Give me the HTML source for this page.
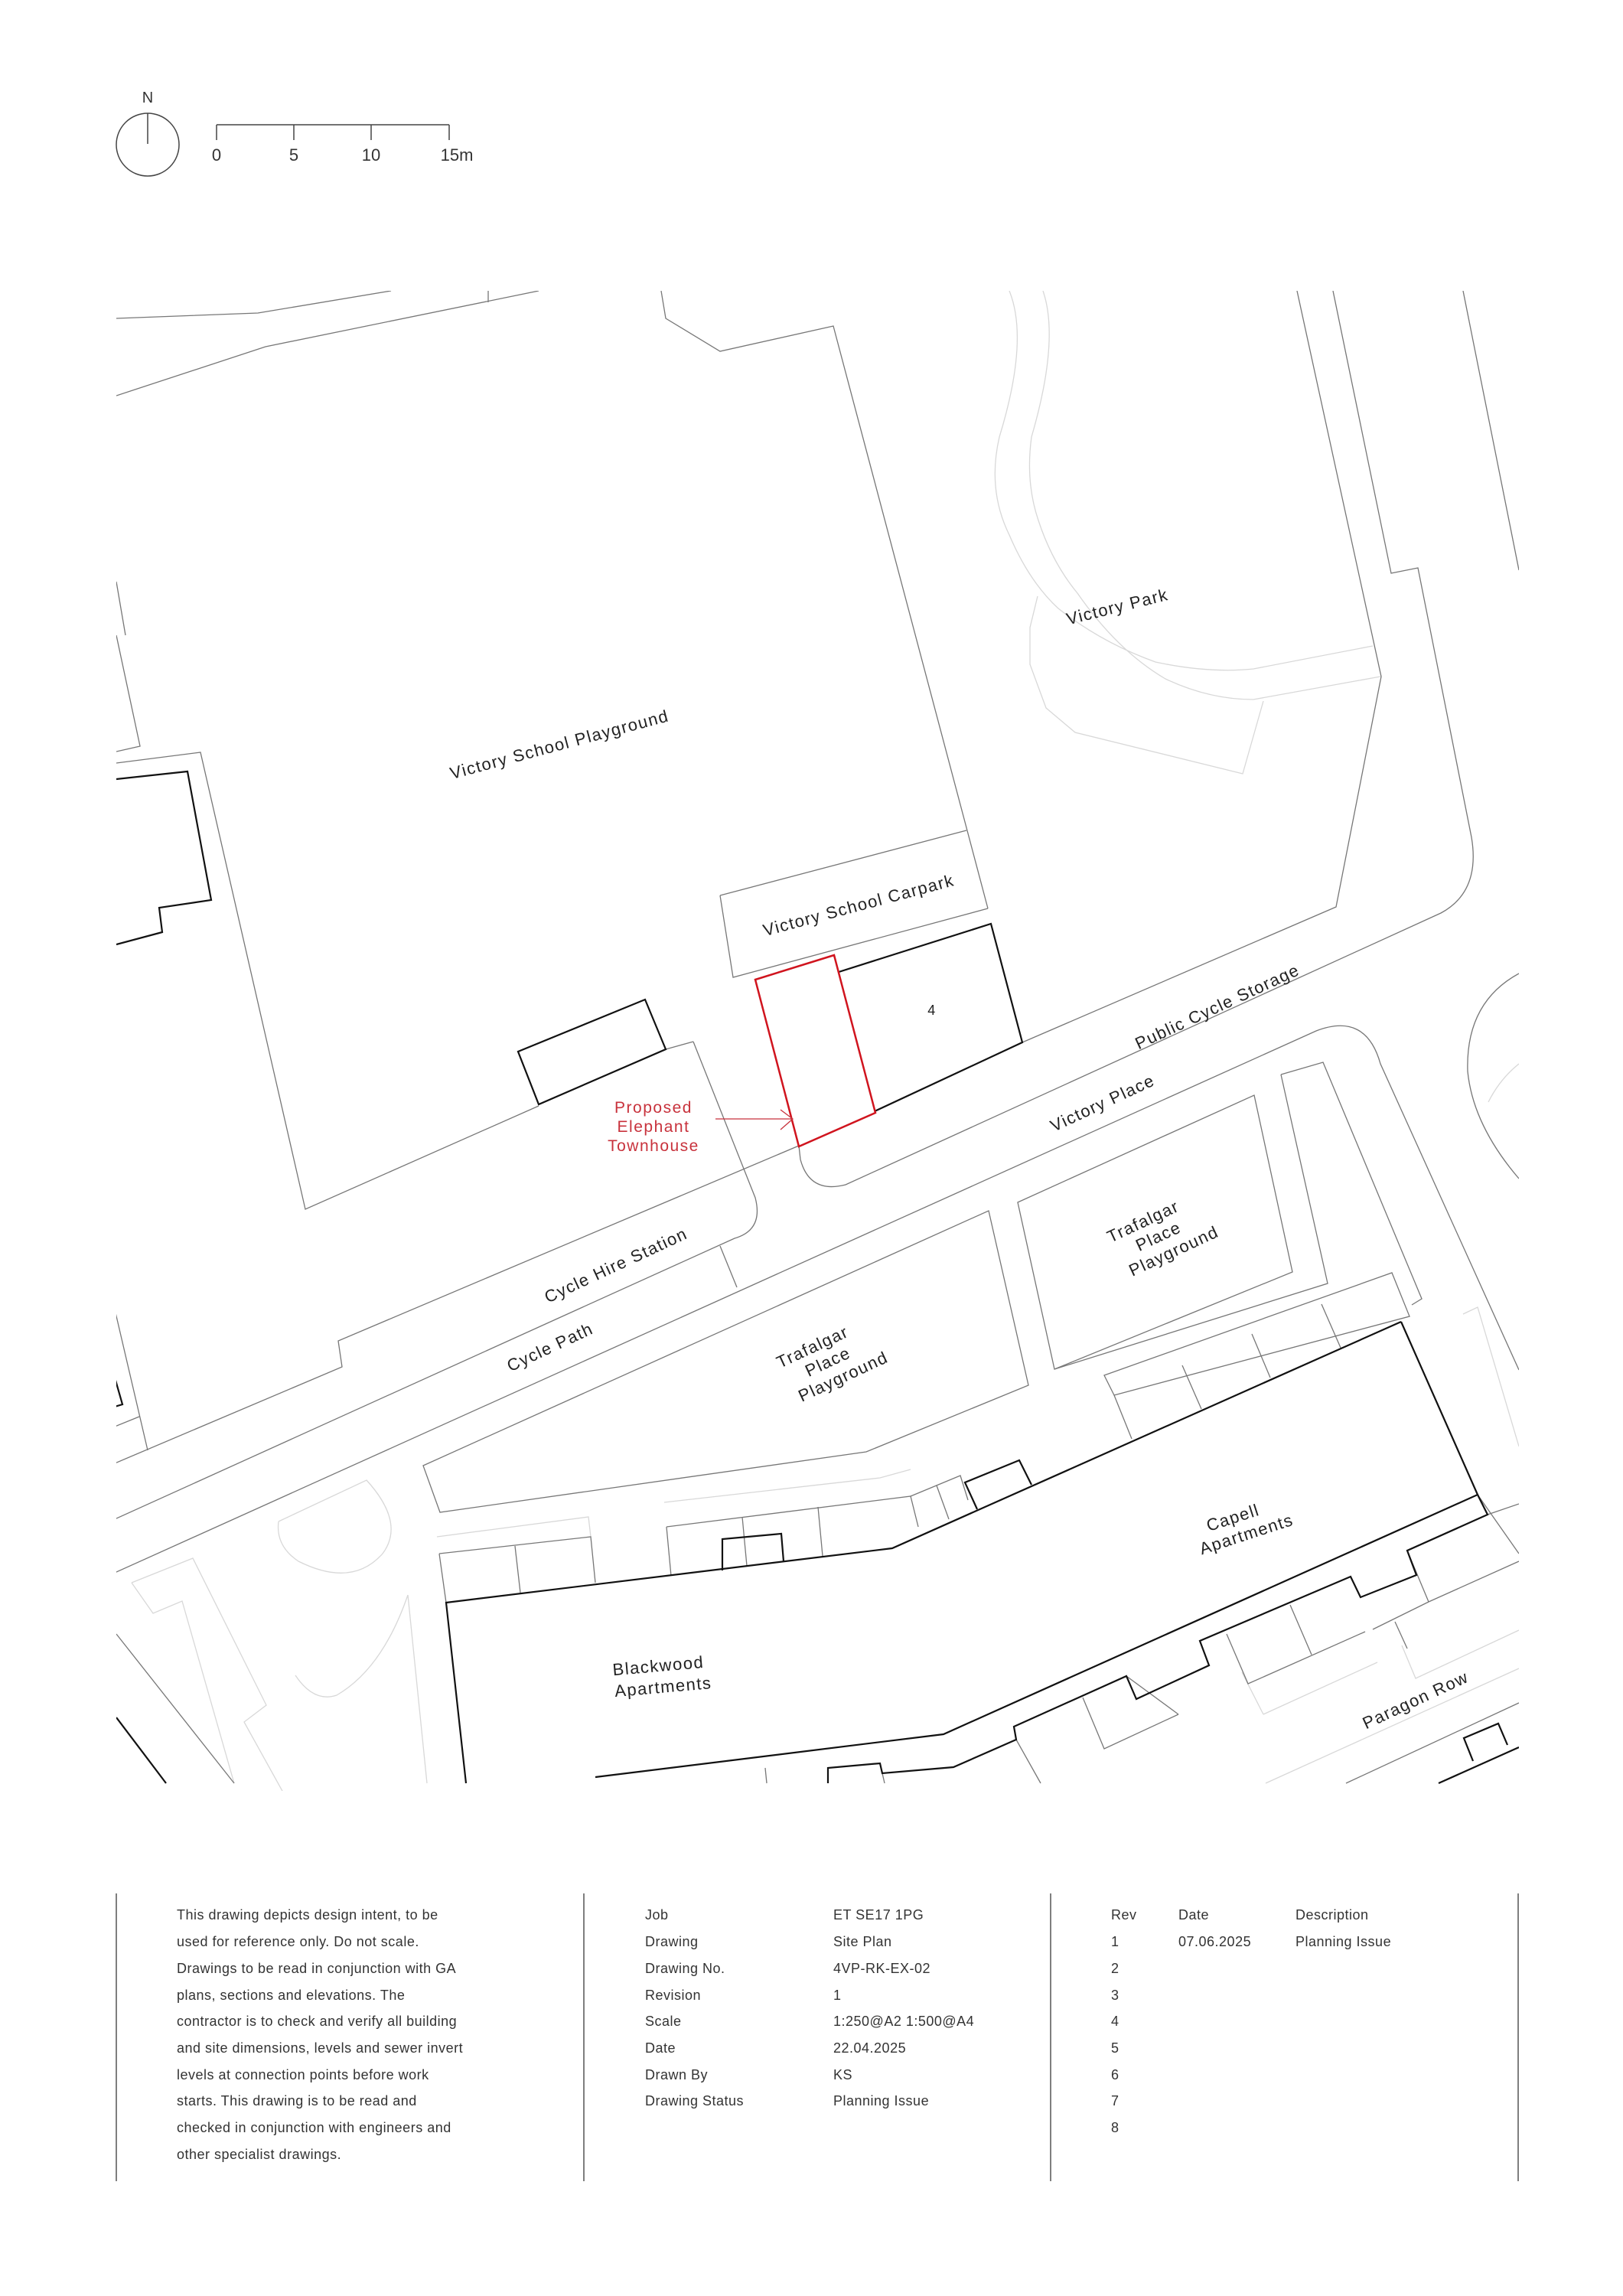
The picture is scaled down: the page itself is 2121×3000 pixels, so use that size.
<!DOCTYPE html>
<html><head><meta charset="utf-8">
<style>
html,body{margin:0;padding:0;background:#fff;}
svg{display:block;}
text{font-family:"Liberation Sans",sans-serif;}
</style></head>
<body>
<svg width="2121" height="3000" viewBox="0 0 2121 3000" xmlns="http://www.w3.org/2000/svg">
<rect width="2121" height="3000" fill="#fff"/>
<circle cx="193" cy="189" r="41" fill="none" stroke="#444" stroke-width="1.5"/>
<line x1="193" y1="148" x2="193" y2="188" stroke="#444" stroke-width="1.5"/>
<text x="193" y="134" font-size="20" text-anchor="middle" fill="#333">N</text>
<g stroke="#444" stroke-width="1.5">
<line x1="283" y1="163" x2="587" y2="163"/>
<line x1="283" y1="163" x2="283" y2="183"/>
<line x1="384" y1="163" x2="384" y2="183"/>
<line x1="485" y1="163" x2="485" y2="183"/>
<line x1="587" y1="163" x2="587" y2="183"/>
</g>
<g font-size="22" fill="#333" text-anchor="middle">
<text x="283" y="210">0</text><text x="384" y="210">5</text><text x="485" y="210">10</text><text x="597" y="210">15m</text>
</g>

<defs><clipPath id="mc"><rect x="152" y="380" width="1833" height="1960"/></clipPath></defs>
<g clip-path="url(#mc)" fill="none" stroke-linejoin="miter">
<g stroke="#d8d8d8" stroke-width="1.3">
<path d="M1319,380 Q1345,444 1306,571 Q1290,640 1319,699 Q1345,760 1383,795 Q1440,840 1510,865 Q1580,880 1638,874 L1794,844"/>
<path d="M1363,380 Q1385,444 1348,571 Q1340,630 1357,680 Q1375,735 1408,775 Q1460,850 1523,887 Q1580,914 1638,914 L1804,884"/>
<path d="M1356,779 L1346,820 L1346,868 L1367,925 L1405,957 L1624,1011 L1651,916"/>
<path d="M364,1988 L479,1934 Q530,1990 500,2030 Q460,2075 390,2040 Q360,2020 364,1988"/>
<path d="M172,2068 L252,2036 L348,2228 L319,2250 L380,2360"/>
<path d="M172,2068 L200,2108 L238,2092 L306,2330"/>
<path d="M533,2084 L558,2330"/>
<path d="M533,2084 Q500,2180 440,2215 Q410,2225 386,2189"/>
<path d="M571,2008 L769,1982 L772,2008"/>
<path d="M868,1963 L1150,1931 L1190,1920"/>
<path d="M1654,2330 L1985,2180"/>
<path d="M1912,1717 L1931,1708 L1985,1890"/>
<path d="M1651,2240 L1800,2172 M1623,2185 L1651,2240 M1832,2150 L1850,2193 L1985,2130"/>
<path d="M1985,1390 Q1960,1410 1945,1440"/>
</g>
<g stroke="#777" stroke-width="1.3">
<path d="M152,416 L337,409 L511,380"/>
<path d="M152,517 L347,453 L704,380 M638,380 L638,395"/>
<path d="M864,380 L870,416 L941,459 L1089,426 L1291,1187"/>
<path d="M941,1170 L1263,1085 M941,1170 L958,1277 L1291,1187"/>
<path d="M152,760 L164,830 M152,830 L183,975 L152,982 M152,997 L262,983 L399,1580 L704,1445 M870,1371 L906,1361"/>
<path d="M150,1711 L193,1895 M150,1864 L182,1851"/>
<path d="M150,1912 L447,1786 L442,1752 L1044,1497"/>
<path d="M1336,1362 L1746,1185 L1805,884 L1695,380"/>
<path d="M906,1361 L987,1565 Q998,1607 960,1618 L150,1985"/>
<path d="M941,1628 L963,1682"/>
<path d="M150,2055 L1720,1347 Q1785,1322 1804,1390 L1985,1790"/>
<path d="M1044,1497 L1046,1515 Q1058,1560 1105,1548 L1883,1193 Q1935,1165 1923,1094 L1853,742 L1818,749 L1742,380"/>
<path d="M1912,380 L1985,745"/>
<path d="M1985,1272 Q1915,1310 1918,1400 Q1925,1470 1985,1540"/>
<path d="M553,1915 L1292,1582 L1344,1810 L1132,1897 L575,1976 Z"/>
<path d="M1330,1571 L1639,1431 L1689,1662 L1378,1789 Z"/>
<path d="M1674,1404 L1729,1388 L1858,1697 L1845,1705 M1674,1404 L1735,1677 L1378,1789"/>
<path d="M1443,1797 L1819,1663 L1842,1720 L1456,1823 Z M1456,1823 L1479,1880 M1545,1784 L1570,1841 M1636,1743 L1660,1800 M1727,1704 L1752,1761"/>
<path d="M574,2030 L772,2008 L778,2068 M673,2020 L680,2081 M574,2030 L583,2094"/>
<path d="M871,1995 L1190,1955 L1200,1995 M877,2059 L871,1995 M970,1982 L976,2046 M1069,1969 L1075,2033"/>
<path d="M1190,1955 L1255,1928 L1265,1960 M1224,1941 L1240,1985"/>
<path d="M152,2135 L306,2330"/>
<path d="M1944,1979 L1985,1965 M1931,1953 L1985,2030 M1867,2093 L1985,2040 M1839,2026 L1867,2093 M1794,2129 L1867,2093 M1603,2135 L1631,2200 L1784,2132 M1686,2097 L1714,2162 M1823,2119 L1839,2154"/>
<path d="M1759,2330 L1985,2225"/>
<path d="M1328,2273 L1360,2330 M1415,2218 L1443,2285 L1540,2240 M1472,2190 L1540,2240"/>
<path d="M1000,2310 L1002,2330 M1153,2317 L1156,2330"/>
</g>
<g stroke="#111" stroke-width="2.2">
<path d="M152,1018 L245,1008 L276,1176 L208,1186 L212,1218 L152,1234"/>
<path d="M677,1374 L843,1306 L870,1371 L704,1443 Z"/>
<path d="M150,1800 L160,1835 L150,1838"/>
<path d="M1096,1270 L1295,1207 L1336,1362 L1143,1452"/>
<path d="M1831,1727 L1166,2023 L583,2094 L609,2330"/>
<path d="M1831,1727 L1931,1953 L1233,2266 L778,2322"/>
<path d="M1931,1953 L1944,1979 L1839,2026 L1851,2058 L1778,2087 L1765,2060 L1568,2144 L1580,2176 L1485,2220 L1472,2190 L1325,2256 L1328,2273 L1246,2309 L1153,2317 L1150,2304 L1082,2310 L1082,2330"/>
<path d="M1277,1972 L1261,1937 L1332,1908 L1348,1940"/>
<path d="M944,2052 L944,2011 L1021,2004 L1024,2040"/>
<path d="M152,2244 L217,2330"/>
<path d="M1880,2330 L1985,2283 M1925,2301 L1913,2271 L1958,2252 L1970,2280"/>
</g>
<path d="M987,1280 L1090,1248 L1144,1454 L1044,1498 Z" stroke="#d0141e" stroke-width="2.5"/>
<g stroke="#c8323c" stroke-width="1.3">
<line x1="935" y1="1462" x2="1036" y2="1462"/>
<path d="M1020,1450 L1036,1462 L1020,1476"/>
</g>
</g>

<g font-size="22" fill="#222" letter-spacing="1.5" text-anchor="middle">
<text transform="translate(733,980) rotate(-15)">Victory  School Playground</text>
<text transform="translate(1462,800) rotate(-14)">Victory  Park</text>
<text transform="translate(1124,1190) rotate(-15)">Victory  School Carpark</text>
<text x="1218" y="1326" font-size="18">4</text>
<text transform="translate(1594,1322) rotate(-25)">Public  Cycle  Storage</text>
<text transform="translate(1444,1448) rotate(-25)">Victory  Place</text>
<text transform="translate(808,1660) rotate(-25)">Cycle  Hire  Station</text>
<text transform="translate(722,1767) rotate(-25)">Cycle  Path</text>
<g transform="translate(1085,1786) rotate(-25)"><text x="-10" y="-26">Trafalgar</text><text x="0" y="0">Place</text><text x="10" y="26">Playground</text></g>
<g transform="translate(1517,1622) rotate(-25)"><text x="-10" y="-26">Trafalgar</text><text x="0" y="0">Place</text><text x="10" y="26">Playground</text></g>
<g transform="translate(1622,2000) rotate(-18)"><text x="-5" y="-12">Capell</text><text x="5" y="14">Apartments</text></g>
<g transform="translate(862,2196) rotate(-5)"><text x="0" y="-12">Blackwood</text><text x="4" y="16">Apartments</text></g>
<text transform="translate(1853,2228) rotate(-25)">Paragon  Row</text>
</g>
<g font-size="21" fill="#c8323c" letter-spacing="1.5" text-anchor="middle">
<text x="854" y="1454">Proposed</text><text x="854" y="1479">Elephant</text><text x="854" y="1504">Townhouse</text>
</g>

<g stroke="#555" stroke-width="1.5">
<line x1="152" y1="2474" x2="152" y2="2850"/>
<line x1="763" y1="2474" x2="763" y2="2850"/>
<line x1="1373" y1="2474" x2="1373" y2="2850"/>
<line x1="1984" y1="2474" x2="1984" y2="2850"/>
</g>
<g font-size="18" fill="#333" letter-spacing="0.5">
<text x="231" y="2508">This drawing depicts design intent, to be</text>
<text x="231" y="2543">used for reference only.  Do not scale.</text>
<text x="231" y="2578">Drawings to be read in conjunction with GA</text>
<text x="231" y="2613">plans, sections and elevations. The</text>
<text x="231" y="2647">contractor is to check and verify all building</text>
<text x="231" y="2682">and site dimensions, levels and sewer invert</text>
<text x="231" y="2717">levels at connection points before work</text>
<text x="231" y="2751">starts. This drawing is to be read and</text>
<text x="231" y="2786">checked in conjunction with engineers and</text>
<text x="231" y="2821">other specialist drawings.</text>

<text x="843" y="2508">Job</text><text x="1089" y="2508">ET SE17 1PG</text>
<text x="843" y="2543">Drawing</text><text x="1089" y="2543">Site Plan</text>
<text x="843" y="2578">Drawing No.</text><text x="1089" y="2578">4VP-RK-EX-02</text>
<text x="843" y="2613">Revision</text><text x="1089" y="2613">1</text>
<text x="843" y="2647">Scale</text><text x="1089" y="2647">1:250@A2  1:500@A4</text>
<text x="843" y="2682">Date</text><text x="1089" y="2682">22.04.2025</text>
<text x="843" y="2717">Drawn By</text><text x="1089" y="2717">KS</text>
<text x="843" y="2751">Drawing Status</text><text x="1089" y="2751">Planning Issue</text>

<text x="1452" y="2508">Rev</text><text x="1540" y="2508">Date</text><text x="1693" y="2508">Description</text>
<text x="1452" y="2543">1</text><text x="1540" y="2543">07.06.2025</text><text x="1693" y="2543">Planning Issue</text>
<text x="1452" y="2578">2</text><text x="1452" y="2613">3</text><text x="1452" y="2647">4</text>
<text x="1452" y="2682">5</text><text x="1452" y="2717">6</text><text x="1452" y="2751">7</text><text x="1452" y="2786">8</text>
</g>
</svg>
</body></html>
